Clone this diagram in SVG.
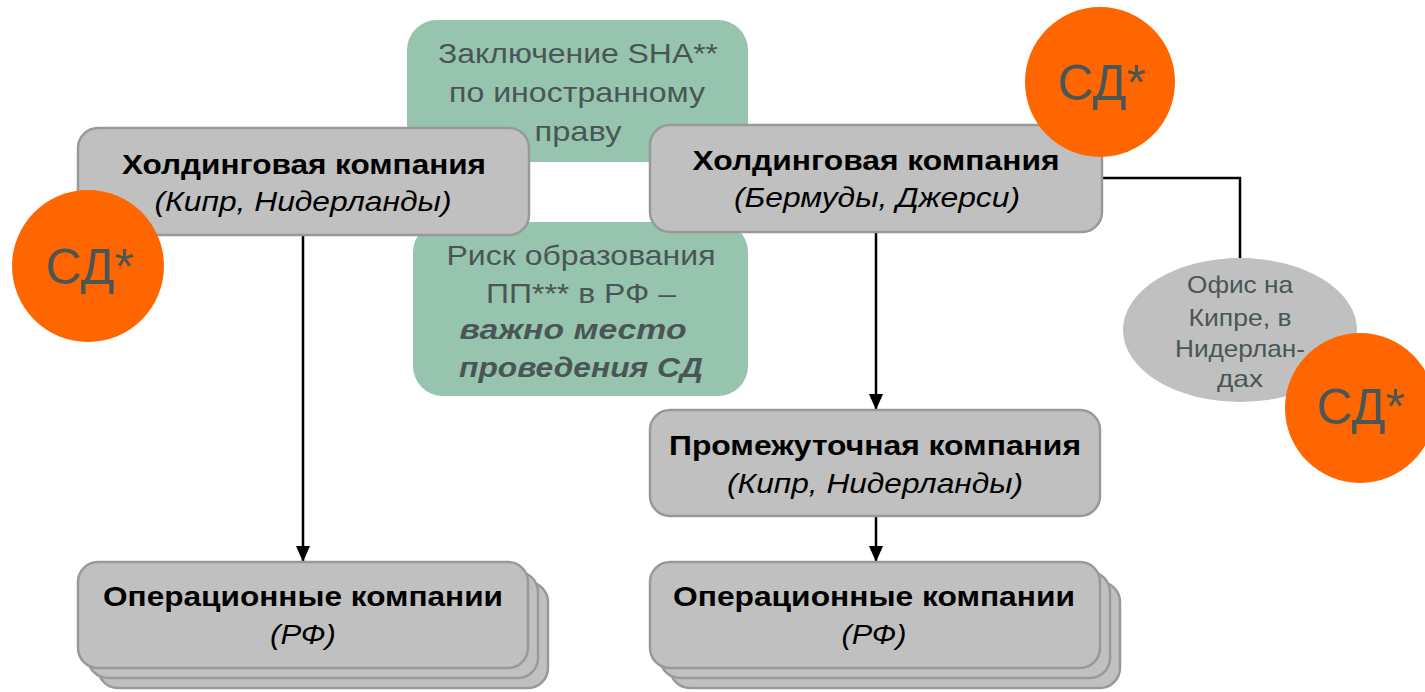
<svg xmlns="http://www.w3.org/2000/svg" width="1425" height="692" viewBox="0 0 1425 692">
<style>
.green{fill:#97C4AE;}
.gtxt{font-family:"Liberation Sans",Arial,sans-serif;font-size:28px;fill:#4A5656;text-anchor:middle;}
.box{fill:#C0C0C0;stroke:#999999;stroke-width:2.5;}
.b{font-family:"Liberation Sans",Arial,sans-serif;font-size:28px;font-weight:bold;fill:#000;text-anchor:middle;}
.i{font-family:"Liberation Sans",Arial,sans-serif;font-size:28px;font-style:italic;fill:#000;text-anchor:middle;}
.sd{fill:#FF6600;}
.sdt{font-family:"Liberation Sans",Arial,sans-serif;font-size:50px;fill:#4A5656;text-anchor:middle;}
.etxt{font-family:"Liberation Sans",Arial,sans-serif;font-size:24px;fill:#4A5656;text-anchor:middle;}
.line{stroke:#000;stroke-width:2.5;fill:none;}
</style>
<defs>
<marker id="arr" markerWidth="16" markerHeight="14" refX="16" refY="7" orient="auto" markerUnits="userSpaceOnUse" viewBox="0 0 16 14">
<path d="M0,0 L16,7 L0,14 z" fill="#000"/>
</marker>
</defs>
<rect width="1425" height="692" fill="#fff"/>
<g id="note-sha">
<rect class="green" x="407" y="20" width="341" height="142" rx="30"/>
<text class="gtxt" x="578" y="63" textLength="280" lengthAdjust="spacingAndGlyphs">Заключение SHA**</text>
<text class="gtxt" x="577" y="102" textLength="256" lengthAdjust="spacingAndGlyphs">по иностранному</text>
<text class="gtxt" x="578" y="141" textLength="87" lengthAdjust="spacingAndGlyphs">праву</text>
</g>
<g id="note-risk">
<rect class="green" x="413" y="222" width="335" height="174" rx="30"/>
<text class="gtxt" x="581" y="265" textLength="269" lengthAdjust="spacingAndGlyphs">Риск образования</text>
<text class="gtxt" x="581" y="303" textLength="190" lengthAdjust="spacingAndGlyphs">ПП*** в РФ –</text>
<text class="gtxt" x="573" y="339" font-weight="bold" font-style="italic" textLength="227" lengthAdjust="spacingAndGlyphs">важно место</text>
<text class="gtxt" x="581" y="377" font-weight="bold" font-style="italic" textLength="244" lengthAdjust="spacingAndGlyphs">проведения СД</text>
</g>
<g id="connectors">
<line class="line" x1="303" y1="236" x2="303" y2="562" marker-end="url(#arr)"/>
<line class="line" x1="876" y1="233" x2="876" y2="410" marker-end="url(#arr)"/>
<line class="line" x1="876" y1="517" x2="876" y2="562" marker-end="url(#arr)"/>
<polyline class="line" points="1102,178 1240,178 1240,260"/>
</g>
<g id="holding-left">
<rect class="box" x="78" y="128" width="451" height="107" rx="20"/>
<text class="b" x="304" y="174" textLength="364" lengthAdjust="spacingAndGlyphs">Холдинговая компания</text>
<text class="i" x="303" y="211" textLength="297" lengthAdjust="spacingAndGlyphs">(Кипр, Нидерланды)</text>
</g>
<g id="sd-left">
<circle class="sd" cx="88" cy="266" r="76"/>
<text class="sdt" x="90" y="284">СД*</text>
</g>
<g id="holding-right">
<rect class="box" x="650" y="125" width="452" height="107" rx="20"/>
<text class="b" x="876" y="170" textLength="367" lengthAdjust="spacingAndGlyphs">Холдинговая компания</text>
<text class="i" x="877" y="207" textLength="286" lengthAdjust="spacingAndGlyphs">(Бермуды, Джерси)</text>
</g>
<g id="sd-top">
<circle class="sd" cx="1100" cy="82" r="75"/>
<text class="sdt" x="1102" y="100">СД*</text>
</g>
<g id="office">
<ellipse cx="1240" cy="330" rx="117" ry="72" fill="#C0C0C0"/>
<text class="etxt" x="1240" y="293" textLength="106" lengthAdjust="spacingAndGlyphs">Офис на</text>
<text class="etxt" x="1240" y="326" textLength="103" lengthAdjust="spacingAndGlyphs">Кипре, в</text>
<text class="etxt" x="1240" y="357" textLength="130" lengthAdjust="spacingAndGlyphs">Нидерлан-</text>
<text class="etxt" x="1240" y="387" textLength="46" lengthAdjust="spacingAndGlyphs">дах</text>
</g>
<g id="sd-office">
<circle class="sd" cx="1360" cy="408" r="75"/>
<text class="sdt" x="1361" y="424">СД*</text>
</g>
<g id="intermediate">
<rect class="box" x="650" y="410" width="450" height="106" rx="20"/>
<text class="b" x="875" y="455" textLength="412" lengthAdjust="spacingAndGlyphs">Промежуточная компания</text>
<text class="i" x="875" y="493" textLength="296" lengthAdjust="spacingAndGlyphs">(Кипр, Нидерланды)</text>
</g>
<g id="ops-left">
<rect class="box" x="98" y="582" width="450" height="106" rx="20"/>
<rect class="box" x="88" y="572" width="450" height="106" rx="20"/>
<rect class="box" x="78" y="562" width="450" height="106" rx="20"/>
<text class="b" x="303" y="606" textLength="400" lengthAdjust="spacingAndGlyphs">Операционные компании</text>
<text class="i" x="303" y="644" textLength="66" lengthAdjust="spacingAndGlyphs">(РФ)</text>
</g>
<g id="ops-right">
<rect class="box" x="670" y="582" width="450" height="106" rx="20"/>
<rect class="box" x="660" y="572" width="450" height="106" rx="20"/>
<rect class="box" x="650" y="562" width="450" height="106" rx="20"/>
<text class="b" x="874" y="606" textLength="402" lengthAdjust="spacingAndGlyphs">Операционные компании</text>
<text class="i" x="874" y="644" textLength="65" lengthAdjust="spacingAndGlyphs">(РФ)</text>
</g>
</svg>
